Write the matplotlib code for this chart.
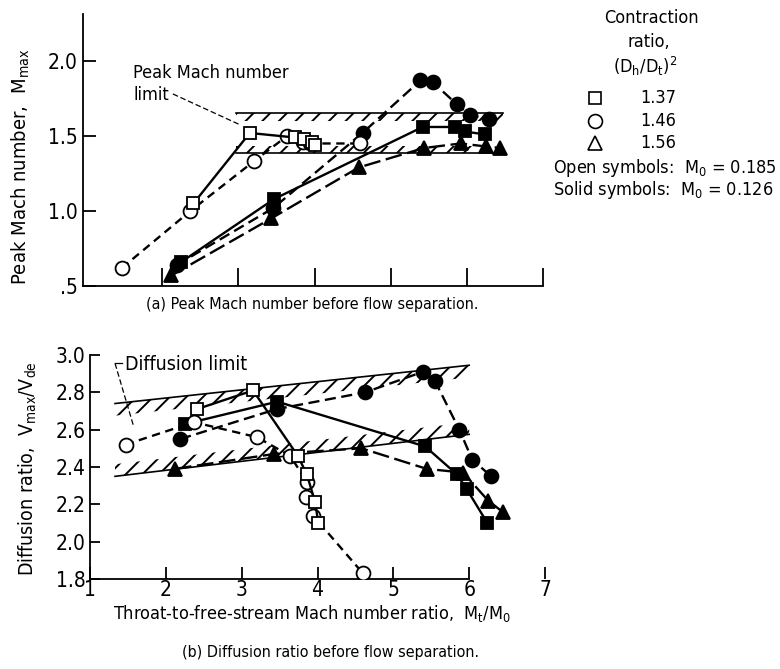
import matplotlib
matplotlib.use('Agg')
import matplotlib.pyplot as plt
from matplotlib import font_manager
from matplotlib.lines import Line2D

# ---- pick a narrow / condensed sans font if one is installed ----
chosen = None
prefs = [('Liberation Sans Narrow', None), ('DejaVu Sans', 'condensed'),
         ('Noto Sans', 'condensed'), ('Open Sans', 'condensed'), ('Roboto', 'condensed')]
flist = font_manager.fontManager.ttflist
for name, stretch in prefs:
    for f in flist:
        st = str(f.stretch).lower()
        if f.name == name and f.style == 'normal' and (stretch is None or 'condensed' in st) \
                and 'extra' not in st and 'ultra' not in st:
            chosen = (f.name, f.stretch)
            break
    if chosen:
        break

if chosen:
    FONT, STRETCH = chosen
    plt.rcParams['font.family'] = [FONT, 'DejaVu Sans']
    plt.rcParams['font.stretch'] = STRETCH
    SC = 1.0
    try:
        plt.rcParams['mathtext.fontset'] = 'custom'
        plt.rcParams['mathtext.rm'] = '%s:stretch=%s' % (FONT, STRETCH)
    except Exception:
        plt.rcParams['mathtext.fontset'] = 'dejavusans'
else:
    FONT = 'DejaVu Sans'
    plt.rcParams['font.family'] = ['DejaVu Sans']
    plt.rcParams['mathtext.fontset'] = 'dejavusans'
    SC = 0.84

plt.rcParams['hatch.linewidth'] = 1.4
plt.rcParams['lines.scale_dashes'] = False

# ---------------- data (x = throat-to-free-stream Mach number ratio) -------------
# contraction ratio 1.37, open squares (M0 = 0.185)
x_sq_open = [2.41, 3.15, 3.74, 3.86, 3.97, 4.01]
mmax_sq_open = [1.05, 1.52, 1.49, 1.48, 1.46, 1.44]
dr_sq_open = [2.71, 2.81, 2.46, 2.36, 2.21, 2.10]
# contraction ratio 1.46, open circles (M0 = 0.185)
x_ci_open = [1.47, 2.37, 3.20, 3.64, 3.86, 3.85, 3.94, 4.60]
mmax_ci_open = [0.62, 1.00, 1.33, 1.50, 1.47, 1.46, 1.45, 1.45]
dr_ci_open = [2.52, 2.64, 2.56, 2.46, 2.32, 2.24, 2.14, 1.83]
# contraction ratio 1.37, solid squares (M0 = 0.126)
x_sq_solid = [2.25, 3.47, 5.42, 5.84, 5.97, 6.24]
mmax_sq_solid = [0.66, 1.08, 1.56, 1.56, 1.53, 1.51]
dr_sq_solid = [2.63, 2.75, 2.51, 2.36, 2.28, 2.10]
# contraction ratio 1.46, solid circles (M0 = 0.126)
x_ci_solid = [2.19, 3.46, 4.63, 5.39, 5.55, 5.87, 6.04, 6.29]
mmax_ci_solid = [0.64, 1.02, 1.52, 1.87, 1.86, 1.71, 1.64, 1.61]
dr_ci_solid = [2.55, 2.71, 2.80, 2.91, 2.86, 2.60, 2.44, 2.35]
# contraction ratio 1.56, solid triangles (M0 = 0.126)
x_tr_solid = [2.12, 3.43, 4.58, 5.44, 5.92, 6.25, 6.44]
mmax_tr_solid = [0.57, 0.95, 1.29, 1.42, 1.45, 1.43, 1.42]
dr_tr_solid = [2.39, 2.47, 2.50, 2.39, 2.37, 2.22, 2.16]

# limit bands
peak_band_x = [2.97, 6.48]
peak_band_top = [1.65, 1.65]
peak_band_bottom = [1.385, 1.385]
diff_band_x = [1.33, 6.0]
diff_band_top = [2.74, 2.945]
diff_band_bottom = [2.35, 2.575]

legend_ratios = ['1.37', '1.46', '1.56']

# ---------------- figure ----------------
W, H = 780, 669
fig = plt.figure(figsize=(W / 100, H / 100), dpi=100)
ax1 = fig.add_axes([83 / W, 1 - 286 / H, 460 / W, 272 / H])
ax2 = fig.add_axes([90 / W, 1 - 579 / H, 455 / W, 224 / H])

ax1.set_xlim(0.96, 7.0)
ax1.set_ylim(0.5, 2.313)
ax2.set_xlim(1.0, 7.0)
ax2.set_ylim(1.8, 3.0)

LW = 1.7
styles = {
    'sq_open': dict(marker='s', ms=9, mfc='white', ls='-'),
    'ci_open': dict(marker='o', ms=10, mfc='white', ls=(0, (6, 4))),
    'sq_solid': dict(marker='s', ms=9, mfc='k', ls='-'),
    'ci_solid': dict(marker='o', ms=10, mfc='k', ls=(0, (8, 4))),
    'tr_solid': dict(marker='^', ms=10, mfc='k', ls=(0, (12, 4))),
}


def series(ax, x, y, key):
    st = styles[key]
    ax.plot(x, y, color='k', lw=LW, linestyle=st['ls'], marker=st['marker'],
            ms=st['ms'], mfc=st['mfc'], mec='k', mew=1.3, zorder=3)


for ax, vals in ((ax1, (mmax_sq_solid, mmax_ci_solid, mmax_tr_solid, mmax_ci_open, mmax_sq_open)),
                 (ax2, (dr_sq_solid, dr_ci_solid, dr_tr_solid, dr_ci_open, dr_sq_open))):
    series(ax, x_sq_solid, vals[0], 'sq_solid')
    series(ax, x_ci_solid, vals[1], 'ci_solid')
    series(ax, x_tr_solid, vals[2], 'tr_solid')
    series(ax, x_ci_open, vals[3], 'ci_open')
    series(ax, x_sq_open, vals[4], 'sq_open')

# hatched limit bands
HT = 0.05
ax1.fill_between(peak_band_x, [v - HT for v in peak_band_top], peak_band_top,
                 facecolor='none', edgecolor='k', hatch='//', linewidth=0, zorder=1)
ax1.plot(peak_band_x, peak_band_top, color='k', lw=1.2, zorder=1)
ax1.fill_between(peak_band_x, peak_band_bottom, [v + HT for v in peak_band_bottom],
                 facecolor='none', edgecolor='k', hatch='//', linewidth=0, zorder=1)
ax1.plot(peak_band_x, peak_band_bottom, color='k', lw=1.2, zorder=1)

HT2 = 0.065
ax2.fill_between(diff_band_x, [v - HT2 for v in diff_band_top], diff_band_top,
                 facecolor='none', edgecolor='k', hatch='//', linewidth=0, zorder=1)
ax2.plot(diff_band_x, diff_band_top, color='k', lw=1.2, zorder=1)
ax2.fill_between(diff_band_x, diff_band_bottom, [v + HT2 for v in diff_band_bottom],
                 facecolor='none', edgecolor='k', hatch='//', linewidth=0, zorder=1)
ax2.plot(diff_band_x, diff_band_bottom, color='k', lw=1.2, zorder=1)

# annotations
FS = 13 * SC
FT = 15 * SC
ax1.text(1.62, 1.92, 'Peak Mach number', fontsize=FS, va='center', ha='left')
ax1.text(1.62, 1.775, 'limit', fontsize=FS, va='center', ha='left')
ax1.plot([2.14, 3.02], [1.78, 1.575], color='k', lw=0.9, ls=(0, (4, 2)), zorder=2)

ax2.text(1.46, 2.947, 'Diffusion limit', fontsize=14 * SC, va='center', ha='left')
ax2.plot([1.42, 1.33], [2.958, 2.958], color='k', lw=0.9)
ax2.plot([1.33, 1.57], [2.955, 2.625], color='k', lw=0.9, ls=(0, (4, 2)), zorder=2)

# axes styling
for ax in (ax1, ax2):
    ax.spines['top'].set_visible(False)
    ax.spines['right'].set_visible(False)
    ax.spines['left'].set_linewidth(1.3)
    ax.spines['bottom'].set_linewidth(1.3)

ax1.set_xticks([2, 3, 4, 5, 6, 7])
ax1.set_xticklabels([])
ax1.set_yticks([0.5, 1.0, 1.5, 2.0])
ax1.set_yticklabels(['.5', '1.0', '1.5', '2.0'], fontsize=FT)
ax1.tick_params(axis='x', direction='in', length=13, width=1.3)
ax1.tick_params(axis='y', direction='in', length=9, width=1.3, pad=4)

ax2.spines['bottom'].set_bounds(1, 6)
ax2.set_xticks([1, 2, 3, 4, 5, 6, 7])
ax2.set_xticklabels(['1', '2', '3', '4', '5', '6', '7'], fontsize=FT)
ax2.set_yticks([1.8, 2.0, 2.2, 2.4, 2.6, 2.8, 3.0])
ax2.set_yticklabels(['1.8', '2.0', '2.2', '2.4', '2.6', '2.8', '3.0'], fontsize=FT)
ax2.tick_params(axis='x', direction='in', length=9, width=1.3, pad=1)
ax2.tick_params(axis='y', direction='in', length=7, width=1.3, pad=3)

# axis labels and captions
fig.text(21 / W, 1 - 167 / H, r'Peak Mach number,  M$_\mathregular{max}$', rotation=90,
         ha='center', va='center', fontsize=14.5 * SC)
fig.text(28 / W, 1 - 469 / H, r'Diffusion ratio,  V$_\mathregular{max}$/V$_\mathregular{de}$',
         rotation=90, ha='center', va='center', fontsize=14 * SC)
fig.text(312 / W, 1 - 613 / H,
         r'Throat-to-free-stream Mach number ratio,  M$_\mathregular{t}$/M$_\mathregular{0}$',
         ha='center', va='center', fontsize=FS)
fig.text(312 / W, 1 - 305 / H, '(a) Peak Mach number before flow separation.',
         ha='center', va='center', fontsize=11.5 * SC)
fig.text(330 / W, 1 - 652 / H, '(b) Diffusion ratio before flow separation.',
         ha='center', va='center', fontsize=11.5 * SC)

# legend (figure coords)
fig.text(651 / W, 1 - 18 / H, 'Contraction', ha='center', va='center', fontsize=FS)
fig.text(649 / W, 1 - 42 / H, 'ratio,', ha='center', va='center', fontsize=FS)
fig.text(645 / W, 1 - 66 / H, r'(D$_\mathregular{h}$/D$_\mathregular{t}$)$^\mathregular{2}$',
         ha='center', va='center', fontsize=FS)
leg_markers = ['s', 'o', '^']
leg_y = [98, 121, 143]
for m, yy, lab in zip(leg_markers, leg_y, legend_ratios):
    fig.add_artist(Line2D([595 / W], [1 - yy / H], transform=fig.transFigure, marker=m,
                          ms=9 if m == 's' else 10, mfc='white', mec='k', mew=1.2, ls='none'))
    fig.text(640 / W, 1 - yy / H, lab, ha='left', va='center', fontsize=FS)
fig.text(553 / W, 1 - 168 / H, r'Open symbols:  M$_\mathregular{0}$ = 0.185',
         ha='left', va='center', fontsize=FS)
fig.text(553 / W, 1 - 190 / H, r'Solid symbols:  M$_\mathregular{0}$ = 0.126',
         ha='left', va='center', fontsize=FS)

fig.savefig('out.png', dpi=100, facecolor='white')
